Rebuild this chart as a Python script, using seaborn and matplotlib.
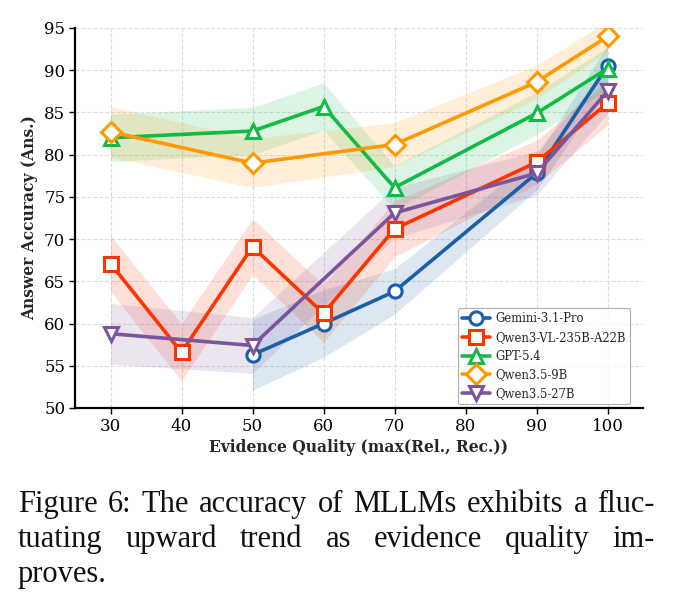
import numpy as np
import pandas as pd
import matplotlib
matplotlib.use("Agg")
import matplotlib.pyplot as plt
import seaborn as sns

# ---------------- data ----------------
x_gemini = [50, 60, 70, 90, 100]
y_gemini = [56.3, 60.0, 63.8, 77.8, 90.5]
e_gemini = [4.2, 4.0, 2.7, 2.0, 2.5]

x_qwenvl = [30, 40, 50, 60, 70, 90, 100]
y_qwenvl = [67.1, 56.6, 69.1, 61.2, 71.2, 79.1, 86.1]
e_qwenvl = [3.3, 3.4, 3.3, 3.4, 3.3, 2.6, 2.6]

x_gpt = [30, 50, 60, 70, 90, 100]
y_gpt = [82.0, 82.8, 85.7, 76.1, 84.9, 90.2]
e_gpt = [2.8, 2.8, 2.8, 2.6, 2.5, 2.5]

x_q9b = [30, 50, 70, 90, 100]
y_q9b = [82.7, 79.0, 81.2, 88.6, 94.0]
e_q9b = [3.0, 2.9, 2.6, 2.0, 1.8]

x_q27b = [30, 50, 70, 90, 100]
y_q27b = [58.8, 57.4, 73.1, 77.8, 87.5]
e_q27b = [3.6, 3.3, 3.0, 2.6, 2.6]

series_names = ["Gemini-3.1-Pro", "Qwen3-VL-235B-A22B", "GPT-5.4", "Qwen3.5-9B", "Qwen3.5-27B"]
x_ticks = [30, 40, 50, 60, 70, 80, 90, 100]
y_ticks = [50, 55, 60, 65, 70, 75, 80, 85, 90, 95]

caption_lines = [
    "Figure 6: The accuracy of MLLMs exhibits a fluc-",
    "tuating upward trend as evidence quality im-",
    "proves.",
]

# ---------------- style ----------------
sns.set_theme(style="white")
plt.rcParams["font.family"] = ["DejaVu Serif"]

colors = ["#1a5fa8", "#ff3300", "#11bb44", "#ff9900", "#7b559c"]
markers = ["o", "s", "^", "D", "v"]
msizes = [9.5, 10, 10, 10, 10]

data = [
    (x_gemini, y_gemini, e_gemini),
    (x_qwenvl, y_qwenvl, e_qwenvl),
    (x_gpt, y_gpt, e_gpt),
    (x_q9b, y_q9b, e_q9b),
    (x_q27b, y_q27b, e_q27b),
]

fig = plt.figure(figsize=(6.73, 6.13), dpi=100)
ax = fig.add_axes([75 / 673, 1 - 408 / 613, (643 - 75) / 673, (408 - 28) / 613])

for (xs, ys, es), name, c, m, ms in zip(data, series_names, colors, markers, msizes):
    xs = np.array(xs); ys = np.array(ys); es = np.array(es)
    ax.fill_between(xs, ys - es, ys + es, color=c, alpha=0.15, linewidth=0)
    df = pd.DataFrame({"x": xs, "y": ys})
    sns.lineplot(data=df, x="x", y="y", ax=ax, color=c, linewidth=2.6,
                 marker=m, markersize=ms, markerfacecolor="white",
                 markeredgecolor=c, markeredgewidth=2.2, label=name)

ax.set_xlim(25, 105)
ax.set_ylim(50, 95)
ax.set_xticks(x_ticks)
ax.set_yticks(y_ticks)
ax.tick_params(axis="both", labelsize=12, direction="out", length=4, width=1,
               left=True, bottom=True, colors="black", pad=3)
ax.grid(True, linestyle="--", color="#dddddd", linewidth=0.8)
for s in ["top", "right"]:
    ax.spines[s].set_visible(False)
for s in ["left", "bottom"]:
    ax.spines[s].set_color("black")
    ax.spines[s].set_linewidth(1.6)

ax.set_xlabel("Evidence Quality (max(Rel., Rec.))", fontsize=11.2, fontweight="bold", labelpad=3)
ax.set_ylabel("Answer Accuracy (Ans.)", fontsize=11.2, fontweight="bold", labelpad=4)

leg = ax.legend(loc="lower right", bbox_to_anchor=(0.985, 0.0), fontsize=8.4, frameon=True,
                fancybox=True, edgecolor="#999999", handlelength=2.4, borderpad=0.35,
                labelspacing=0.48, handletextpad=0.5, borderaxespad=0.35)
leg.get_frame().set_linewidth(0.8)

# ---------------- caption (justified) ----------------
cap_font = dict(family="Liberation Serif", fontsize=22, color="#111111")
left_px, right_px = 18, 655
baselines = [512, 547, 582]
renderer = fig.canvas.get_renderer()
for i, (line, base) in enumerate(zip(caption_lines, baselines)):
    yfig = 1 - base / 613
    if i == len(caption_lines) - 1:
        fig.text(left_px / 673, yfig, line, ha="left", va="baseline", **cap_font)
        continue
    words = line.split(" ")
    objs = [fig.text(0, yfig, w, ha="left", va="baseline", **cap_font) for w in words]
    widths = [o.get_window_extent(renderer=renderer).width for o in objs]
    gap = (right_px - left_px - sum(widths)) / (len(words) - 1)
    xcur = left_px
    for o, w in zip(objs, widths):
        o.set_x(xcur / 673)
        xcur += w + gap

fig.savefig("out.png", dpi=100)
